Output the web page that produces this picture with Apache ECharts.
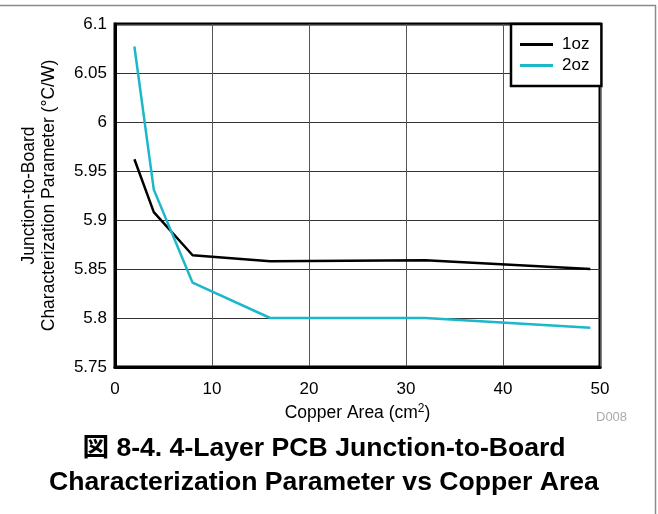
<!DOCTYPE html>
<html>
<head>
<meta charset="utf-8">
<script src="https://cdn.jsdelivr.net/npm/echarts@6/dist/echarts.min.js"></script>
<style>
html,body{margin:0;padding:0;background:#fff;}
#c{width:658px;height:514px;}
</style>
</head>
<body>
<div id="c"></div>
<script>
const copperArea = [2, 4, 8, 16, 32, 49];
const oz1 = [5.962, 5.908, 5.864, 5.858, 5.859, 5.850];
const oz2 = [6.077, 5.931, 5.836, 5.800, 5.800, 5.790];
const seriesNames = ['1oz', '2oz'];
const xTicks = [0, 10, 20, 30, 40, 50];
const yTicks = [5.75, 5.8, 5.85, 5.9, 5.95, 6, 6.05, 6.1];
const titleLines = ['図 8-4. 4-Layer PCB Junction-to-Board', 'Characterization Parameter vs Copper Area'];

const FONT = '"Liberation Sans", Arial, Helvetica, sans-serif';
const chart = echarts.init(document.getElementById('c'));
chart.setOption({
  animation: false,
  backgroundColor: '#fff',
  grid: {left: 115, top: 24, right: 58, bottom: 147, show: true, borderColor: '#000', borderWidth: 3, backgroundColor: 'transparent'},
  legend: {
    data: seriesNames,
    orient: 'vertical',
    left: 511, top: 24,
    borderColor: '#000', borderWidth: 2.5,
    padding: [12, 12, 12, 9],
    icon: 'rect',
    itemWidth: 33, itemHeight: 3, itemGap: 4,
    backgroundColor: '#fff',
    textStyle: {fontFamily: FONT, fontSize: 17, lineHeight: 17, color: '#000', padding: [0, 0, 0, 4]}
  },
  xAxis: {
    type: 'value', min: xTicks[0], max: xTicks[xTicks.length - 1], interval: xTicks[1] - xTicks[0],
    name: 'Copper Area (cm{sup|2})', nameLocation: 'middle', nameGap: 31,
    nameTextStyle: {fontFamily: FONT, fontSize: 17.5, color: '#000', rich: {sup: {fontFamily: FONT, fontSize: 12, verticalAlign: 'bottom', padding: [0, 0, 8, 0], color: '#000'}}},
    axisLine: {show: true, lineStyle: {color: '#000', width: 3}},
    axisTick: {show: false},
    axisLabel: {fontFamily: FONT, fontSize: 17, color: '#000', margin: 14},
    splitLine: {show: true, lineStyle: {color: '#555', width: 1}}
  },
  yAxis: {
    type: 'value', min: yTicks[0], max: yTicks[yTicks.length - 1], interval: 0.05,
    name: 'Junction-to-Board\nCharacterization Parameter (°C/W)', nameLocation: 'middle', nameGap: 56, nameRotate: 90,
    nameTextStyle: {fontFamily: FONT, fontSize: 17.5, color: '#000', lineHeight: 20},
    axisLine: {show: true, lineStyle: {color: '#000', width: 3}},
    axisTick: {show: false},
    axisLabel: {fontFamily: FONT, fontSize: 17, color: '#000', margin: 8,
      formatter: v => String(parseFloat(v.toFixed(2)))},
    splitLine: {show: true, lineStyle: {color: '#333', width: 1}}
  },
  series: [
    {name: seriesNames[0], type: 'line', symbol: 'none', data: copperArea.map((x, i) => [x, oz1[i]]),
     lineStyle: {color: '#000', width: 2.5}, itemStyle: {color: '#000'}, z: 3},
    {name: seriesNames[1], type: 'line', symbol: 'none', data: copperArea.map((x, i) => [x, oz2[i]]),
     lineStyle: {color: '#1ab8c9', width: 2.5}, itemStyle: {color: '#1ab8c9'}, z: 4}
  ],
  graphic: [
    {type: 'rect', shape: {x: -10, y: 5.5, width: 665.5, height: 530}, style: {fill: 'none', stroke: '#8a8a8a', lineWidth: 1.5}, silent: true},
    {type: 'text', left: 596, top: 411, style: {text: 'D008', fontFamily: FONT, fontSize: 13, fill: '#aaa'}},
    {type: 'text', x: 324, y: 449, style: {text: titleLines[0], fontFamily: FONT + ', "Noto Sans CJK JP"', fontSize: 26.6, fontWeight: 'bold', fill: '#000', align: 'center', verticalAlign: 'middle'}},
    {type: 'text', x: 324, y: 483, style: {text: titleLines[1], fontFamily: FONT, fontSize: 26.6, fontWeight: 'bold', fill: '#000', align: 'center', verticalAlign: 'middle'}}
  ]
});
</script>
</body>
</html>
